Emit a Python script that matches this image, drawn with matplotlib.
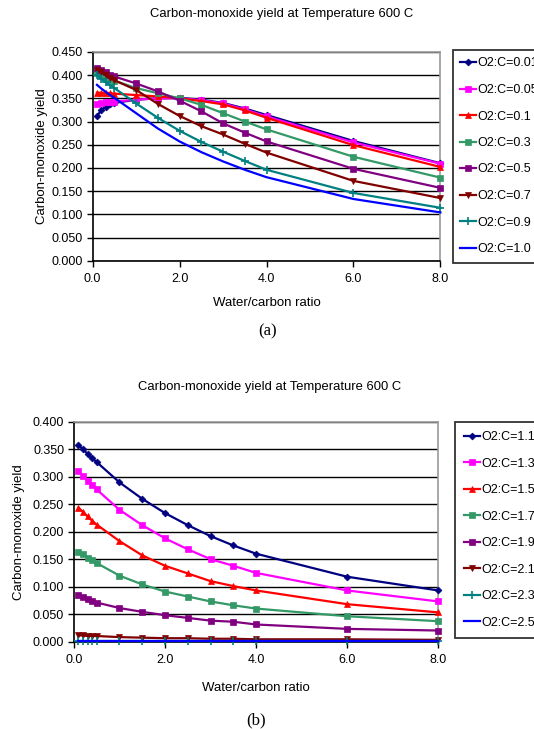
import matplotlib
matplotlib.use("Agg")
import matplotlib.pyplot as plt
from matplotlib.ticker import FormatStrFormatter, MultipleLocator

plt.rcParams['font.family'] = ['Liberation Sans', 'DejaVu Sans']

# Water/carbon ratio sample points
water_carbon = [0.1, 0.2, 0.3, 0.4, 0.5, 1.0, 1.5, 2.0, 2.5, 3.0, 3.5, 4.0, 6.0, 8.0]

# Panel (a): low oxygen-to-carbon ratios
labels_a = ["O2:C=0.01", "O2:C=0.05", "O2:C=0.1", "O2:C=0.3",
            "O2:C=0.5", "O2:C=0.7", "O2:C=0.9", "O2:C=1.0"]
yield_001 = [0.312, 0.324, 0.332, 0.337, 0.340, 0.347, 0.350, 0.351, 0.347, 0.340, 0.328, 0.314, 0.258, 0.210]
yield_005 = [0.338, 0.340, 0.341, 0.342, 0.343, 0.347, 0.350, 0.350, 0.346, 0.339, 0.326, 0.311, 0.255, 0.209]
yield_01 = [0.362, 0.362, 0.361, 0.361, 0.360, 0.357, 0.354, 0.350, 0.344, 0.337, 0.324, 0.308, 0.249, 0.202]
yield_03 = [0.404, 0.400, 0.396, 0.392, 0.388, 0.372, 0.361, 0.350, 0.336, 0.318, 0.300, 0.283, 0.224, 0.179]
yield_05 = [0.416, 0.411, 0.406, 0.401, 0.397, 0.382, 0.365, 0.345, 0.322, 0.296, 0.276, 0.257, 0.198, 0.157]
yield_07 = [0.412, 0.406, 0.400, 0.394, 0.389, 0.368, 0.338, 0.312, 0.290, 0.272, 0.252, 0.233, 0.172, 0.135]
yield_09 = [0.400, 0.392, 0.385, 0.378, 0.372, 0.339, 0.308, 0.280, 0.256, 0.235, 0.215, 0.196, 0.146, 0.114]
yield_10 = [0.379, 0.371, 0.364, 0.357, 0.351, 0.318, 0.285, 0.257, 0.234, 0.214, 0.196, 0.180, 0.133, 0.104]

# Panel (b): high oxygen-to-carbon ratios
labels_b = ["O2:C=1.1", "O2:C=1.3", "O2:C=1.5", "O2:C=1.7",
            "O2:C=1.9", "O2:C=2.1", "O2:C=2.3", "O2:C=2.5"]
yield_11 = [0.358, 0.350, 0.342, 0.334, 0.327, 0.290, 0.260, 0.234, 0.212, 0.192, 0.175, 0.160, 0.118, 0.093]
yield_13 = [0.311, 0.302, 0.293, 0.285, 0.277, 0.240, 0.212, 0.188, 0.168, 0.150, 0.138, 0.125, 0.093, 0.073]
yield_15 = [0.244, 0.236, 0.228, 0.220, 0.213, 0.183, 0.157, 0.138, 0.124, 0.110, 0.101, 0.093, 0.068, 0.053]
yield_17 = [0.164, 0.159, 0.153, 0.148, 0.143, 0.120, 0.104, 0.091, 0.082, 0.073, 0.066, 0.060, 0.046, 0.037]
yield_19 = [0.085, 0.082, 0.078, 0.074, 0.071, 0.061, 0.054, 0.048, 0.043, 0.038, 0.036, 0.031, 0.023, 0.020]
yield_21 = [0.011, 0.011, 0.010, 0.010, 0.010, 0.008, 0.007, 0.006, 0.006, 0.005, 0.005, 0.004, 0.004, 0.003]
yield_23 = [0.001, 0.001, 0.001, 0.001, 0.001, 0.001, 0.001, 0.001, 0.001, 0.001, 0.001, 0.001, 0.001, 0.001]
yield_25 = [0.0005, 0.0005, 0.0005, 0.0005, 0.0005, 0.0005, 0.0005, 0.0005, 0.0005, 0.0005, 0.0005, 0.0005, 0.0005, 0.0005]

colors = ["#000080", "#FF00FF", "#FF0000", "#339966",
          "#800080", "#800000", "#008080", "#0000FF"]
markers = ["D", "s", "^", "s", "s", "v", "+", ""]
msizes = [3.5, 4.5, 4.5, 4.0, 4.5, 4.0, 6.0, 0]

W, H = 534, 729
fig = plt.figure(figsize=(W / 100, H / 100), dpi=100)

series_a = [yield_001, yield_005, yield_01, yield_03, yield_05, yield_07, yield_09, yield_10]
series_b = [yield_11, yield_13, yield_15, yield_17, yield_19, yield_21, yield_23, yield_25]

title = "Carbon-monoxide yield at Temperature 600 C"


def make_axes(left, top, right, bottom):
    return fig.add_axes([left / W, 1 - bottom / H, (right - left) / W, (bottom - top) / H])


ax_a = make_axes(92.6, 51.9, 440.4, 260.7)
ax_b = make_axes(73.9, 422.0, 438.3, 641.5)


def style(ax, series, labels, ymax, ylab_x, left, right, xlab_y):
    for s, lab, c, m, ms in zip(series, labels, colors, markers, msizes):
        ax.plot(water_carbon, s, color=c, lw=1.6, marker=m if m else None,
                markersize=ms, markeredgewidth=1.2 if m == "+" else 0.5,
                markeredgecolor=c, markerfacecolor=c, label=lab,
                clip_on=False, zorder=3)
    ax.set_xlim(0, 8)
    ax.set_ylim(0, ymax)
    ax.xaxis.set_major_locator(MultipleLocator(2))
    ax.yaxis.set_major_locator(MultipleLocator(0.05))
    ax.xaxis.set_major_formatter(FormatStrFormatter('%.1f'))
    ax.yaxis.set_major_formatter(FormatStrFormatter('%.3f'))
    ax.grid(axis='y', color='black', lw=1.0, zorder=1)
    ax.set_axisbelow(True)
    for side in ('top', 'right'):
        ax.spines[side].set_color('#999999')
        ax.spines[side].set_linewidth(1.2)
    for side in ('left', 'bottom'):
        ax.spines[side].set_color('black')
        ax.spines[side].set_linewidth(1.2)
    ax.tick_params(axis='both', direction='out', length=4, width=1.0,
                   labelsize=9, colors='black', pad=3)
    ax.tick_params(axis='x', pad=5)
    ax.set_xlabel("Water/carbon ratio", fontsize=9.5)
    ax.set_ylabel("Carbon-monoxide yield", fontsize=9.5)
    ax.xaxis.set_label_coords(0.5, xlab_y)
    ax.yaxis.set_label_coords((ylab_x - left) / (right - left), 0.5)


def legend(ax, x, y, spacing, pad):
    handles, labs = ax.get_legend_handles_labels()
    leg = fig.legend(handles, labs, loc='upper left',
                     bbox_to_anchor=(x / W, 1 - y / H),
                     bbox_transform=fig.transFigure, fontsize=9,
                     frameon=True, fancybox=False, edgecolor='black',
                     handlelength=1.25, handletextpad=0.15, borderpad=pad,
                     labelspacing=spacing, borderaxespad=0)
    leg.get_frame().set_linewidth(1.3)
    return leg


style(ax_a, series_a, labels_a, 0.45, 48, 92.6, 440.4, -0.175)
style(ax_b, series_b, labels_b, 0.40, 25, 73.9, 438.3, -0.185)
legend(ax_a, 452.7, 50.0, 1.16, 0.6)
legend(ax_b, 455.0, 421.7, 1.16, 0.75)

fig.text(282 / W, 1 - 14.3 / H, title, fontsize=9.4, ha='center', va='center')
fig.text(270 / W, 1 - 386.6 / H, title, fontsize=9.4, ha='center', va='center')
fig.text(268 / W, 1 - 331 / H, "(a)", fontsize=12, family='Liberation Serif',
         ha='center', va='center')
fig.text(256 / W, 1 - 720 / H, "(b)", fontsize=12, family='Liberation Serif',
         ha='center', va='center')

fig.savefig("out.png", dpi=100)
